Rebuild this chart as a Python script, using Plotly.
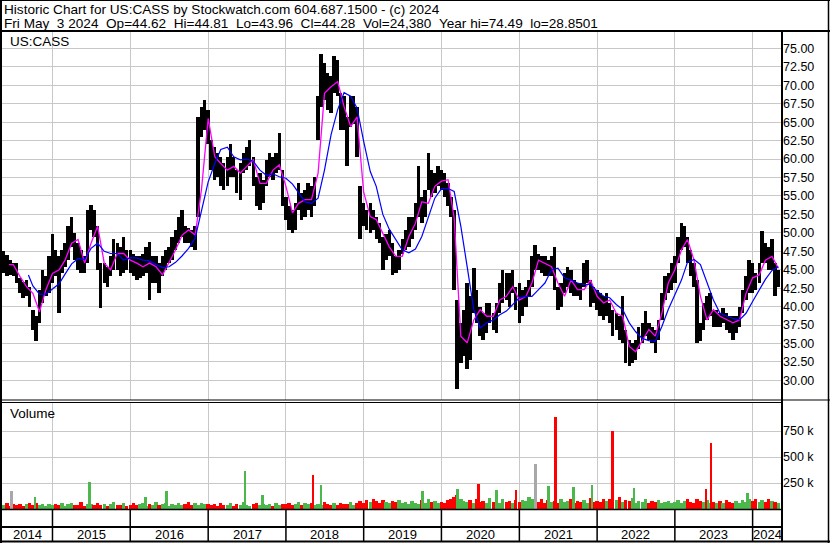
import plotly.graph_objects as go
import pandas as pd

# ---------------- data ----------------
# half-month samples (1st and 15th), 2014-05-15 .. 2024-05-01 : price range hi / lo
hi_2014 = [47.5, 47.0, 46.3, 45.9, 45.9, 43.9, 43.4, 43.6, 42.7, 39.6, 38.7, 42.3, 45.0, 44.1, 46.8]
lo_2014 = [44.5, 44.1, 44.3, 44.1, 43.2, 41.8, 41.2, 41.4, 40.0, 36.9, 35.3, 37.8, 40.5, 41.4, 41.8]
hi_2015 = [49.9, 47.7, 46.8, 47.7, 48.6, 50.9, 52.2, 50.0, 48.6, 47.7, 46.8, 53.1, 53.8, 53.1, 50.9, 45.9, 45.9, 45.4, 46.8, 49.1, 48.6, 48.1, 49.5, 47.7]
lo_2015 = [43.2, 44.1, 39.1, 44.5, 45.4, 46.3, 48.1, 46.3, 45.0, 44.5, 44.5, 45.9, 50.4, 49.5, 45.0, 39.8, 43.2, 42.7, 44.1, 45.0, 45.0, 44.1, 44.5, 45.0]
hi_2016 = [47.7, 47.2, 46.8, 46.8, 47.2, 48.1, 48.8, 46.8, 46.8, 45.9, 46.8, 47.7, 48.1, 49.5, 50.4, 52.2, 53.1, 50.9, 50.6, 50.4, 50.9, 65.7, 67.1, 68.0]
lo_2016 = [44.5, 44.1, 43.6, 43.9, 44.1, 44.5, 40.9, 43.2, 43.2, 41.8, 44.1, 45.0, 45.9, 46.3, 47.7, 48.6, 49.5, 48.6, 48.6, 48.1, 47.7, 52.2, 63.0, 63.9]
hi_2017 = [66.7, 62.6, 61.7, 60.8, 60.3, 59.4, 60.3, 62.1, 60.3, 58.5, 59.4, 60.8, 61.7, 62.6, 60.3, 57.6, 58.1, 57.2, 59.9, 60.8, 60.3, 60.8, 63.5, 58.5]
lo_2017 = [62.1, 58.5, 57.2, 57.6, 56.3, 55.8, 56.3, 57.6, 57.6, 55.4, 54.5, 58.1, 58.5, 59.0, 56.3, 53.6, 53.1, 54.0, 56.3, 57.6, 57.2, 58.1, 58.5, 53.6]
hi_2018 = [54.9, 53.6, 53.1, 54.0, 56.7, 55.4, 55.8, 56.7, 56.3, 57.6, 68.5, 74.3, 73.0, 71.6, 71.2, 73.9, 73.4, 68.9, 68.5, 65.7, 68.5, 68.5, 67.1, 56.3]
lo_2018 = [51.8, 50.4, 50.0, 50.4, 53.1, 51.8, 52.2, 53.1, 52.2, 53.6, 62.6, 67.1, 68.0, 66.7, 66.2, 68.9, 68.5, 63.9, 63.9, 59.0, 64.4, 64.8, 60.3, 49.1]
hi_2019 = [54.0, 53.1, 54.0, 53.1, 52.2, 51.3, 49.5, 49.9, 50.4, 48.6, 46.8, 47.7, 49.1, 50.4, 52.2, 52.2, 54.0, 59.0, 54.9, 55.8, 60.8, 58.5, 58.1, 59.0]
lo_2019 = [50.9, 50.4, 50.0, 50.4, 49.1, 48.6, 45.0, 46.3, 46.8, 44.3, 44.5, 45.0, 47.2, 47.7, 48.1, 49.1, 50.4, 52.2, 51.3, 52.2, 55.8, 54.9, 55.4, 56.3]
hi_2020 = [58.5, 58.1, 56.7, 54.9, 53.1, 40.9, 37.8, 39.6, 43.2, 41.4, 45.2, 42.3, 40.0, 39.1, 40.5, 40.5, 39.1, 40.5, 43.2, 45.0, 44.5, 44.5, 45.0, 42.7]
lo_2020 = [55.8, 54.9, 53.6, 52.2, 42.3, 28.85, 32.4, 33.3, 31.5, 32.8, 39.1, 37.8, 36.0, 35.5, 36.4, 37.8, 36.9, 36.4, 39.1, 40.5, 40.9, 40.0, 41.8, 39.6]
hi_2021 = [43.2, 42.3, 42.7, 43.6, 46.8, 48.4, 47.2, 46.8, 46.8, 46.3, 46.8, 48.1, 42.7, 43.2, 44.5, 45.4, 45.0, 43.6, 43.2, 43.2, 45.9, 46.3, 43.6, 42.7]
lo_2021 = [37.8, 38.7, 40.0, 41.4, 42.7, 45.0, 45.0, 44.5, 44.1, 44.1, 44.1, 42.3, 39.6, 40.0, 41.8, 42.7, 41.8, 41.4, 41.4, 40.9, 42.7, 43.2, 40.0, 40.5]
hi_2022 = [42.3, 41.8, 41.4, 41.8, 40.5, 39.6, 39.1, 38.7, 41.4, 36.9, 35.5, 35.1, 35.5, 37.3, 37.8, 39.4, 37.8, 37.3, 36.9, 38.2, 41.8, 44.1, 44.5, 45.9]
lo_2022 = [39.6, 38.7, 38.2, 38.7, 37.8, 36.0, 36.9, 35.5, 35.1, 32.4, 31.9, 32.4, 32.8, 34.2, 35.1, 36.0, 35.5, 35.1, 33.7, 35.5, 38.2, 40.9, 41.8, 42.3]
hi_2023 = [46.8, 49.5, 51.3, 50.9, 49.5, 47.7, 45.9, 43.6, 37.8, 40.5, 41.4, 41.8, 39.6, 39.6, 39.1, 39.8, 39.1, 38.7, 38.7, 38.7, 40.0, 42.3, 44.1, 46.3]
lo_2023 = [43.2, 45.9, 47.7, 48.1, 45.9, 44.1, 42.7, 35.1, 35.3, 36.9, 38.2, 38.7, 37.3, 37.3, 37.3, 37.8, 36.9, 36.4, 35.5, 36.4, 37.3, 39.1, 40.9, 41.8]
hi_2024 = [45.9, 44.5, 45.9, 50.2, 48.6, 48.1, 49.1, 45.9, 45.0]
lo_2024 = [41.8, 42.3, 43.2, 45.9, 45.9, 45.0, 45.0, 41.4, 42.7]

# daily-volume level per half-month slot (thousands)
vol_2014 = [40, 55, 30, 45, 35, 50, 30, 45, 60, 40, 55, 35, 45, 30, 50]
vol_2015 = [35, 50, 40, 60, 30, 45, 55, 35, 40, 65, 30, 50, 45, 35, 60, 40, 50, 30, 45, 70, 35, 40, 55, 30]
vol_2016 = [40, 55, 35, 45, 60, 30, 50, 40, 65, 35, 45, 55, 30, 50, 40, 60, 35, 45, 70, 40, 55, 35, 60, 45]
vol_2017 = [50, 35, 45, 30, 60, 40, 35, 55, 30, 45, 40, 70, 35, 30, 45, 60, 40, 50, 35, 45, 30, 55, 40, 50]
vol_2018 = [45, 60, 35, 50, 70, 40, 55, 45, 60, 35, 50, 40, 65, 45, 35, 55, 40, 60, 45, 50, 70, 40, 55, 80]
vol_2019 = [60, 85, 70, 100, 75, 60, 90, 70, 55, 80, 65, 90, 55, 70, 50, 75, 60, 50, 85, 60, 100, 65, 75, 55]
vol_2020 = [70, 55, 85, 100, 120, 130, 95, 75, 65, 90, 55, 100, 70, 80, 60, 110, 65, 75, 55, 95, 65, 80, 55, 85]
vol_2021 = [65, 85, 75, 120, 95, 80, 65, 100, 60, 85, 70, 75, 55, 95, 65, 80, 100, 60, 75, 65, 90, 55, 110, 70]
vol_2022 = [80, 65, 95, 75, 100, 70, 85, 120, 65, 90, 75, 110, 60, 80, 70, 95, 55, 75, 65, 85, 60, 70, 80, 55]
vol_2023 = [65, 85, 55, 75, 100, 70, 60, 95, 80, 65, 85, 55, 70, 60, 75, 55, 85, 65, 55, 75, 60, 90, 65, 95]
vol_2024 = [75, 100, 65, 85, 70, 95, 75, 65, 55]

# single-day volume spikes: date, thousands, colour key
spike_dates = ["2014-06-23", "2014-10-12", "2015-06-25", "2016-03-13", "2016-06-20", "2017-06-23",
               "2017-09-15", "2018-05-09", "2018-06-17", "2019-10-05", "2020-03-18", "2020-06-25",
               "2020-09-16", "2020-12-16", "2021-03-19", "2021-05-18", "2021-06-20", "2021-09-14",
               "2021-12-10", "2022-03-16", "2022-06-23", "2023-05-27", "2023-06-22", "2023-12-10"]
spike_vals = [170, 112, 256, 120, 170, 369, 138, 324, 228, 170, 196, 244,
              180, 186, 436, 218, 888, 208, 228, 753, 202, 196, 638, 154]
spike_kind = ["n", "u", "u", "u", "u", "u", "u", "d", "u", "u", "u", "d",
              "u", "d", "n", "u", "d", "u", "u", "d", "u", "d", "d", "u"]

# short moving average (magenta), monthly readings
ma_s_start = ["2014-06-10"]
ma_s_vals = [45.7,
             45.7, 44.1, 42.7, 41.8, 39.3, 42.3,
             44.5, 45.0, 46.3, 48.6, 49.1, 45.9, 48.6, 50.9, 45.9, 45.0, 47.2, 47.2,
             46.3, 45.9, 45.4, 45.9, 45.4, 44.3, 45.9, 47.7, 49.7, 50.4, 49.7, 56.0,
             65.5, 60.3, 59.4, 58.5, 59.0, 58.1, 59.0, 59.9, 56.7, 56.7, 58.5, 59.2,
             56.3, 52.7, 54.0, 54.5, 54.5, 58.1, 68.9, 69.8, 70.5, 67.1, 64.4, 65.7,
             55.5, 52.2, 51.8, 50.0, 48.1, 46.8, 46.8, 49.5, 51.3, 54.2, 54.0, 56.3,
             57.0, 57.2, 52.0, 36.0, 35.1, 38.2, 39.6, 38.7, 38.7, 40.9, 41.4, 42.7,
             40.9, 41.4, 43.2, 46.3, 45.9, 45.4, 43.2, 41.4, 43.6, 42.3, 42.3, 43.6,
             41.4, 40.5, 40.9, 39.1, 38.7, 34.6, 33.9, 35.5, 36.9, 36.0, 39.1, 43.2,
             45.0, 47.7, 49.1, 46.3, 41.4, 38.2, 39.6, 38.7, 38.2, 37.8, 38.2, 41.8,
             43.9, 44.3, 46.3, 46.8, 45.2]

# long moving average (blue), monthly readings
ma_l_start = ["2014-09-10"]
ma_l_vals = [44.3,
             42.8, 41.7, 41.7,
             42.4, 43.1, 44.4, 45.8, 46.5, 46.4, 47.9, 48.6, 47.5, 47.2, 47.2, 46.3,
             46.6, 46.6, 46.3, 46.2, 45.7, 45.3, 45.4, 46.0, 46.9, 47.9, 49.3, 53.1,
             56.9, 59.4, 61.3, 61.6, 60.3, 59.9, 60.0, 59.7, 58.5, 57.8, 58.0, 57.6,
             57.4, 56.6, 55.4, 54.2, 54.0, 54.7, 58.5, 63.3, 66.7, 69.0, 68.5, 66.9,
             62.4, 58.3, 56.3, 52.5, 50.5, 49.1, 47.7, 47.3, 47.8, 49.5, 52.2, 54.7,
             56.0, 56.0, 55.6, 50.9, 45.4, 39.6, 37.1, 37.8, 38.2, 38.9, 39.4, 40.3,
             41.2, 41.4, 41.4, 42.3, 43.2, 45.0, 45.2, 43.9, 43.6, 43.2, 43.0, 43.0,
             42.1, 41.4, 41.2, 40.3, 39.6, 37.8, 36.6, 35.7, 35.4, 35.3, 37.3, 39.6,
             41.6, 43.6, 46.0, 46.4, 45.7, 43.4, 40.9, 39.1, 38.7, 38.4, 38.2, 39.1,
             40.7, 42.3, 43.7, 44.9, 45.4]

price_ticks = [30.0, 32.5, 35.0, 37.5, 40.0, 42.5, 45.0, 47.5, 50.0, 52.5, 55.0, 57.5, 60.0, 62.5, 65.0, 67.5, 70.0, 72.5, 75.0]
vol_ticks = [250000, 500000, 750000]
vol_tick_text = ["250 k", "500 k", "750 k"]
years = list(range(2014, 2025))

title_1 = "Historic Chart for US:CASS by Stockwatch.com 604.687.1500 - (c) 2024"
title_2 = "Fri May\u00a0\u00a03 2024\u00a0\u00a0Op=44.62\u00a0\u00a0Hi=44.81\u00a0\u00a0Lo=43.96\u00a0\u00a0Cl=44.28\u00a0\u00a0Vol=24,380\u00a0\u00a0Year hi=74.49\u00a0\u00a0lo=28.8501"

# ---------------- assemble ----------------
hi = hi_2014 + hi_2015 + hi_2016 + hi_2017 + hi_2018 + hi_2019 + hi_2020 + hi_2021 + hi_2022 + hi_2023 + hi_2024
lo = lo_2014 + lo_2015 + lo_2016 + lo_2017 + lo_2018 + lo_2019 + lo_2020 + lo_2021 + lo_2022 + lo_2023 + lo_2024
vol = vol_2014 + vol_2015 + vol_2016 + vol_2017 + vol_2018 + vol_2019 + vol_2020 + vol_2021 + vol_2022 + vol_2023 + vol_2024
dates = pd.date_range("2014-05-15", "2024-05-01", freq="SMS")
assert len(hi) == len(lo) == len(vol) == len(dates), (len(hi), len(lo), len(vol), len(dates))

ma_s_dates = list(pd.to_datetime(ma_s_start)) + list(pd.date_range("2014-07-01", "2024-05-01", freq="MS"))
ma_l_dates = list(pd.to_datetime(ma_l_start)) + list(pd.date_range("2014-10-01", "2024-05-01", freq="MS"))
assert len(ma_s_dates) == len(ma_s_vals), (len(ma_s_dates), len(ma_s_vals))
assert len(ma_l_dates) == len(ma_l_vals), (len(ma_l_dates), len(ma_l_vals))

RED, GREEN, GREY = "#ff0000", "#4cb84c", "#a8a8a8"
mid = [(a + b) / 2 for a, b in zip(hi, lo)]
vol_colors = [GREEN if i == 0 or mid[i] >= mid[i - 1] else RED for i in range(len(mid))]
kind_col = {"u": GREEN, "d": RED, "n": GREY}

DAY = 86400000

# ---------------- geometry (pixels -> paper) ----------------
W, H = 830, 543
ML, MR, MT, MB = 2, 48, 31, 34
PW, PH = W - ML - MR, H - MT - MB


def px(x):
    return (x - ML) / PW


def py(y):
    return (H - MB - y) / PH


x_start, x_end = pd.Timestamp("2014-05-09"), pd.Timestamp("2024-05-18")

fig = go.Figure()
fig.add_trace(go.Bar(x=dates, y=[a - b for a, b in zip(hi, lo)], base=lo, width=16 * DAY,
                     marker=dict(color="black", line=dict(width=0)), yaxis="y", hoverinfo="skip"))
fig.add_trace(go.Scatter(x=ma_s_dates, y=ma_s_vals, mode="lines", line=dict(color="#ff00ff", width=1.3),
                         yaxis="y", hoverinfo="skip"))
fig.add_trace(go.Scatter(x=ma_l_dates, y=ma_l_vals, mode="lines", line=dict(color="#0000ff", width=1.2),
                         yaxis="y", hoverinfo="skip"))
fig.add_trace(go.Bar(x=dates, y=[v * 1000 for v in vol], width=16 * DAY,
                     marker=dict(color=vol_colors, line=dict(width=0)), yaxis="y2", hoverinfo="skip"))
fig.add_trace(go.Bar(x=pd.to_datetime(spike_dates), y=[v * 1000 for v in spike_vals], width=9 * DAY,
                     marker=dict(color=[kind_col[k] for k in spike_kind], line=dict(width=0)),
                     yaxis="y2", hoverinfo="skip"))

grid = "#c8c8c8"
vol_top = (509 - 402) / 26 * 250000
fig.update_layout(
    width=W, height=H, margin=dict(l=ML, r=MR, t=MT, b=MB),
    paper_bgcolor="white", plot_bgcolor="white", showlegend=False, barmode="overlay", bargap=0,
    font=dict(family="Liberation Sans, Arial, sans-serif", size=12.5, color="#000000"),
    xaxis=dict(type="date", range=[x_start, x_end], tickvals=[pd.Timestamp(f"{y}-01-01") for y in years[1:]],
               showticklabels=False, showgrid=True, gridcolor=grid, gridwidth=1, zeroline=False,
               showline=False, ticks="", anchor="y2"),
    yaxis=dict(domain=[py(400), 1], range=[27.35, 77.35], side="right", tickvals=price_ticks,
               ticktext=[f"{t:.2f}" for t in price_ticks], showgrid=True, gridcolor=grid, gridwidth=1,
               zeroline=False, showline=False, ticks="", anchor="x"),
    yaxis2=dict(domain=[0, py(402)], range=[0, vol_top], side="right", tickvals=vol_ticks,
                ticktext=vol_tick_text, showgrid=True, gridcolor=grid, gridwidth=1, zeroline=False,
                showline=False, ticks="", anchor="x"),
)

# ---------------- frame lines ----------------
def hline(y, x0, x1, w=1.5):
    fig.add_shape(type="line", xref="paper", yref="paper", x0=px(x0), x1=px(x1), y0=py(y), y1=py(y),
                  line=dict(color="black", width=w))


def vline(x, y0, y1, w=1.5):
    fig.add_shape(type="line", xref="paper", yref="paper", x0=px(x), x1=px(x), y0=py(y0), y1=py(y1),
                  line=dict(color="black", width=w))


hline(0.5, 0, 830, 1)
hline(31, 0, 830, 2)
hline(400, 0, 830, 1.2)
hline(402.5, 0, 782, 1.2)
hline(509.5, 0, 782, 1.5)
hline(527, 0, 782, 2)
hline(541.5, 0, 830, 2)
vline(1, 0, 543, 2)
vline(782, 31, 542, 2)
vline(828.5, 0, 543, 1.5)

for y in years[1:]:
    fig.add_shape(type="line", xref="x", yref="paper", x0=pd.Timestamp(f"{y}-01-01"), x1=pd.Timestamp(f"{y}-01-01"),
                  y0=py(509), y1=py(541), line=dict(color="black", width=1.5))

# year labels centred on the visible part of each year
for y in years:
    a = max(pd.Timestamp(f"{y}-01-01"), x_start)
    b = min(pd.Timestamp(f"{y + 1}-01-01"), x_end)
    fig.add_annotation(x=a + (b - a) / 2, xref="x", y=py(534.5), yref="paper", text=str(y), showarrow=False,
                       xanchor="center", yanchor="middle", font=dict(size=13))

# ---------------- texts ----------------
fig.add_annotation(x=px(2), y=py(9.5), xref="paper", yref="paper", text=title_1, showarrow=False,
                   xanchor="left", yanchor="middle", font=dict(size=13.6))
fig.add_annotation(x=px(2), y=py(23.5), xref="paper", yref="paper", text=title_2, showarrow=False,
                   xanchor="left", yanchor="middle", font=dict(size=13.6))
fig.add_annotation(x=px(8), y=py(42), xref="paper", yref="paper", text="US:CASS", showarrow=False,
                   xanchor="left", yanchor="middle", font=dict(size=13.5))
fig.add_annotation(x=px(8), y=py(413), xref="paper", yref="paper", text="Volume", showarrow=False,
                   xanchor="left", yanchor="middle", font=dict(size=13.5))

fig.write_html("out.html", config={"displayModeBar": False},
               post_script="document.body.style.margin='0px';")
